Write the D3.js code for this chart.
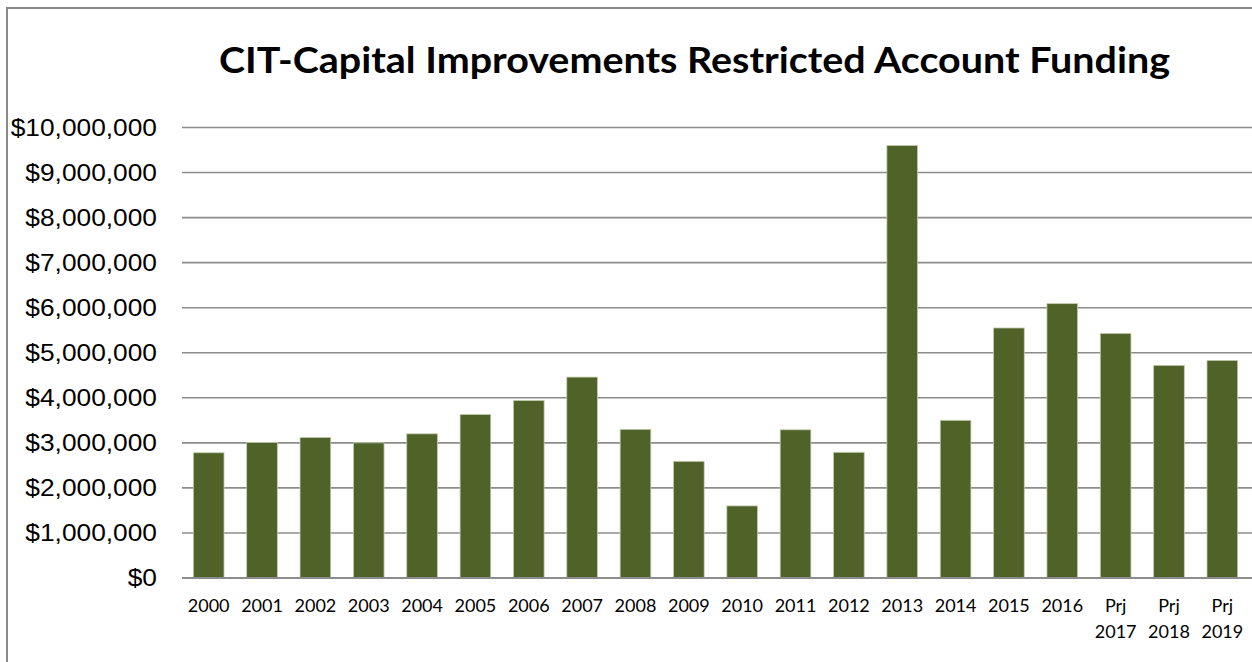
<!DOCTYPE html>
<html>
<head>
<meta charset="utf-8">
<script src="https://cdn.jsdelivr.net/npm/d3@7"></script>
<style>
  html, body { margin: 0; padding: 0; background: #fff; }
  svg { display: block; }
</style>
</head>
<body>
<svg id="chart" width="1252" height="662"></svg>
<script>
// Funding by year (2017–2019 are projections)
const categories = ["2000","2001","2002","2003","2004","2005","2006","2007","2008","2009",
                    "2010","2011","2012","2013","2014","2015","2016","Prj 2017","Prj 2018","Prj 2019"];
const funding = [2780000, 3010000, 3120000, 3000000, 3200000, 3630000, 3940000, 4460000, 3300000, 2590000,
                 1600000, 3290000, 2790000, 9600000, 3500000, 5550000, 6090000, 5430000, 4720000, 4830000];
const yTicks = [0, 1000000, 2000000, 3000000, 4000000, 5000000, 6000000, 7000000, 8000000, 9000000, 10000000];
const chartTitle = "CIT-Capital Improvements Restricted Account Funding";

const svg = d3.select("#chart");
const W = 1252, H = 662;
const plot = { left: 182, right: 1249, top: 127.5, bottom: 578 };

// outer chart frame
svg.append("rect")
  .attr("x", 7).attr("y", 8)
  .attr("width", W + 20).attr("height", H + 20)
  .attr("fill", "#fff")
  .attr("stroke", "#8a8a8a").attr("stroke-width", 2);

const x = d3.scaleBand().domain(categories)
  .range([plot.left, plot.right]).paddingInner(0.425).paddingOuter(0.2125);
const y = d3.scaleLinear().domain([0, 10000000]).range([plot.bottom, plot.top]);

// gridlines
svg.append("g").selectAll("line").data(yTicks).join("line")
  .attr("x1", plot.left).attr("x2", W)
  .attr("y1", d => y(d)).attr("y2", d => y(d))
  .attr("stroke", "#8c8c8c").attr("stroke-width", 1.6);

// y axis labels (slightly widened glyphs)
const fmt = d => "$" + d3.format(",")(d);
const yAxis = d3.axisLeft(y).tickValues(yTicks).tickFormat(fmt).tickSize(0).tickPadding(25);
const gy = svg.append("g").attr("transform", `translate(${plot.left},0)`).call(yAxis);
gy.select(".domain").remove();
gy.selectAll("text")
  .attr("font-family", "'Liberation Sans', Arial, sans-serif")
  .attr("font-size", 23.5).attr("fill", "#000")
  .attr("x", 0)
  .attr("transform", "translate(-25,0) scale(1.12,1)");

// bars
svg.append("g").selectAll("rect").data(funding).join("rect")
  .attr("x", (d, i) => x(categories[i]))
  .attr("width", x.bandwidth())
  .attr("y", d => y(d))
  .attr("height", d => y(0) - y(d))
  .attr("fill", "#4f6228")
  .attr("stroke", "#c3cdb0").attr("stroke-width", 0.8);

// baseline
svg.append("line")
  .attr("x1", plot.left).attr("x2", W)
  .attr("y1", y(0)).attr("y2", y(0))
  .attr("stroke", "#8c8c8c").attr("stroke-width", 2);

// x axis labels (two lines for projected years)
const xAxis = d3.axisBottom(x).tickSize(0).tickPadding(0);
const gx = svg.append("g").attr("transform", `translate(0,${plot.bottom})`).call(xAxis);
gx.select(".domain").remove();
gx.selectAll("text").each(function(d) {
  const t = d3.select(this).text("")
    .attr("font-family", "Lato, 'Open Sans', sans-serif")
    .attr("font-size", 18).attr("fill", "#000").attr("y", 0).attr("dy", 0);
  d.split(" ").forEach((part, k) => {
    t.append("tspan").attr("x", 0).attr("y", 34 + k * 26).text(part);
  });
});

// title
svg.append("text")
  .attr("x", 694.5).attr("y", 73)
  .attr("text-anchor", "middle")
  .attr("font-family", "Lato, 'Open Sans', sans-serif")
  .attr("font-weight", "bold")
  .attr("font-size", 37)
  .attr("textLength", 951)
  .attr("lengthAdjust", "spacingAndGlyphs")
  .attr("fill", "#000")
  .text(chartTitle);
</script>
</body>
</html>
